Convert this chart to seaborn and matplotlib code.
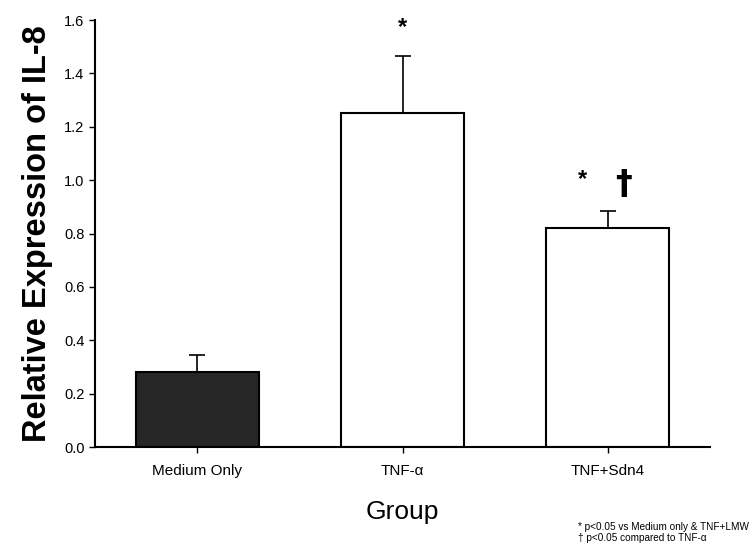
import matplotlib
matplotlib.use("Agg")
import matplotlib.pyplot as plt
import seaborn as sns
import pandas as pd

# Data
groups = ["Medium Only", "TNF-α", "TNF+Sdn4"]
means = [0.282, 1.253, 0.819]
sem = [0.063, 0.211, 0.066]
bar_colors = ["#262626", "#ffffff", "#ffffff"]
y_ticks = [0.0, 0.2, 0.4, 0.6, 0.8, 1.0, 1.2, 1.4, 1.6]

sns.set_theme(style="ticks")
plt.rcParams["font.family"] = ["Liberation Sans", "DejaVu Sans"]
plt.rcParams["text.color"] = "black"
plt.rcParams["axes.labelcolor"] = "black"
plt.rcParams["xtick.color"] = "black"
plt.rcParams["ytick.color"] = "black"

df = pd.DataFrame({"Group": groups, "Value": means})

fig = plt.figure(figsize=(7.49, 5.47), dpi=100)
ax = fig.add_axes([0.1268, 0.1828, 0.8212, 0.7806])

sns.barplot(data=df, x="Group", y="Value", hue="Group", palette=bar_colors,
            edgecolor="black", linewidth=1.5, width=0.6, errorbar=None,
            legend=False, ax=ax)

# upper-only error bars
ax.errorbar(range(len(groups)), means, yerr=[[0] * len(sem), sem],
            fmt="none", ecolor="black", elinewidth=1.2, capsize=6,
            capthick=1.2, zorder=1)

ax.set_xlim(-0.5, 2.5)
ax.set_ylim(0, 1.6)
ax.set_yticks(y_ticks)
ax.set_yticklabels([f"{t:.1f}" for t in y_ticks], fontsize=10.5)
ax.tick_params(axis="x", labelsize=11, length=4, width=1, pad=8)
ax.tick_params(axis="y", length=4, width=1)

for s in ["top", "right"]:
    ax.spines[s].set_visible(False)
for s in ["left", "bottom"]:
    ax.spines[s].set_linewidth(1.5)
    ax.spines[s].set_color("black")

ax.set_xlabel("Group", fontsize=19, labelpad=16)
ax.set_ylabel("Relative Expression of IL-8", fontsize=23.5, fontweight="bold",
              labelpad=8)

# significance marks
ax.text(1, 1.53, "*", ha="center", va="bottom", fontsize=17, fontweight="bold")
ax.text(1.88, 0.96, "*", ha="center", va="bottom", fontsize=17, fontweight="bold")
ax.text(2.08, 0.92, "†", ha="center", va="bottom", fontsize=24,
        fontweight="bold", family=["DejaVu Sans"])

# footnotes
fig.text(0.772, 0.008, "* p<0.05 vs Medium only & TNF+LMW\n† p<0.05 compared to TNF-α",
         fontsize=7.2, ha="left", va="bottom", linespacing=1.05)

fig.savefig("out.png", dpi=100)
